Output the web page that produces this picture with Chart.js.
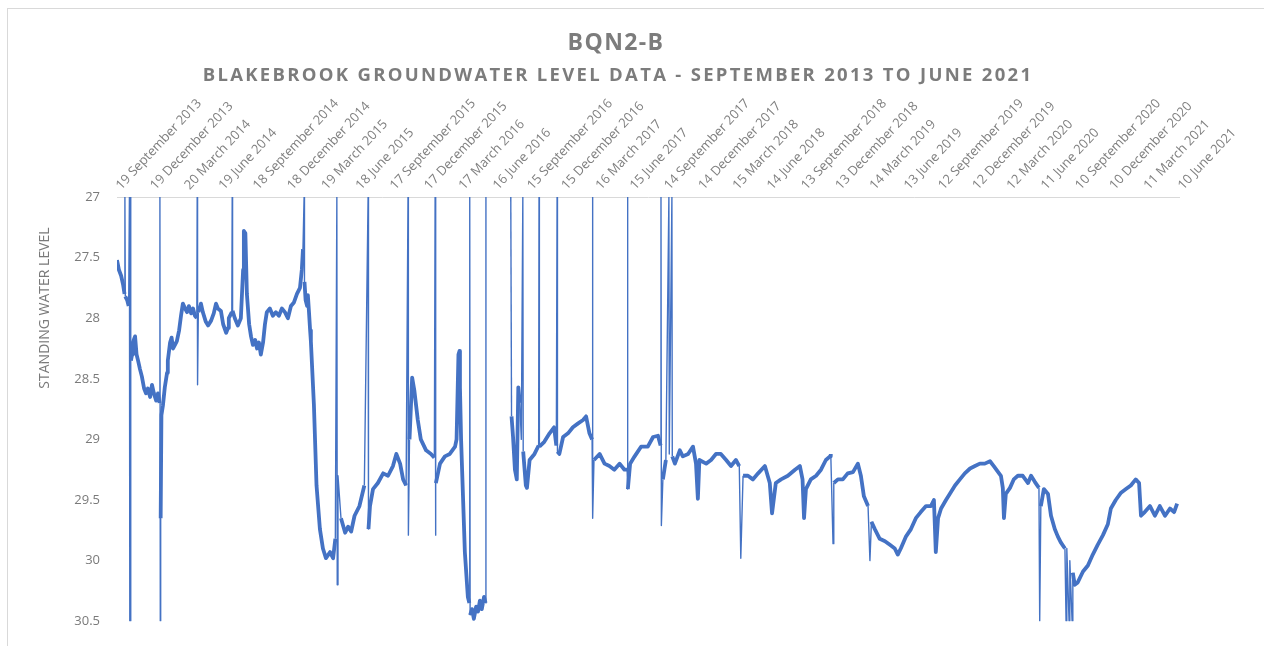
<!DOCTYPE html>
<html lang="en">
<head>
    <meta charset="UTF-8">
    <title>BQN2-B - Blakebrook Groundwater Level Data</title>
    <script src="https://cdn.jsdelivr.net/npm/chart.js"></script>
    <style>
        html, body { margin: 0; padding: 0; background: #fff; }
        .frame {
            position: absolute; left: 7px; top: 8px; width: 1260px; height: 660px;
            border-left: 1px solid #d9d9d9; border-top: 1px solid #d9d9d9;
        }
        .chart-container { position: absolute; left: 0; top: 0; width: 1264px; height: 646px; }
    </style>
</head>
<body>
    <div class="frame"></div>
    <div class="chart-container">
        <canvas id="levelChart"></canvas>
    </div>

    <script>
        // Quarterly axis labels
        const tickLabels = [
            '19 September 2013', '19 December 2013', '20 March 2014', '19 June 2014',
            '18 September 2014', '18 December 2014', '19 March 2015', '18 June 2015',
            '17 September 2015', '17 December 2015', '17 March 2016', '16 June 2016',
            '15 September 2016', '15 December 2016', '16 March 2017', '15 June 2017',
            '14 September 2017', '14 December 2017', '15 March 2018', '14 June 2018',
            '13 September 2018', '13 December 2018', '14 March 2019', '13 June 2019',
            '12 September 2019', '12 December 2019', '12 March 2020', '11 June 2020',
            '10 September 2020', '10 December 2020', '11 March 2021', '10 June 2021'
        ];

        // Days since 19 September 2013
        const days = [
            // 2013 - 2014
            0, 5, 11, 16, 20, 21, 22, 27, 31, 33, 34, 35, 36, 37, 40, 42, 48, 52, 56, 61,
            66, 72, 77, 82, 88, 93, 98, 104, 109, 113, 114, 115, 116, 118, 122, 127, 133, 135, 141, 145,
            149, 154, 159, 165, 170, 175, 181, 186, 191, 197, 202, 207, 212, 213, 214, 216, 223, 228, 236, 242,
            250, 257, 263, 268, 276, 282, 290, 295, 297, 305, 306, 307, 313, 321, 329, 335, 337, 341, 345, 351,
            356, 361, 367, 372, 377, 382, 388, 393, 398, 406, 414, 422, 430, 438, 446,
            // 2014 - 2016
            454, 462, 470, 478, 486, 491, 494, 497, 498, 501, 505, 507, 510, 513, 515, 523, 530, 539, 547, 555,
            566, 574, 580, 584, 585, 587, 595, 606, 614, 622, 631, 644, 657, 667, 668, 672, 680, 693, 707, 720,
            733, 742, 752, 760, 768, 773, 774, 777, 784, 790, 799, 807, 821, 834, 843, 845, 846, 847, 858, 871,
            884, 898, 902, 907, 910, 911, 914, 924, 932, 936, 937, 938, 943, 948, 954, 959, 964, 969, 975, 979,
            980, 1013,
            // 2016 - 2018
            1046, 1048, 1052, 1057, 1062, 1066, 1070, 1074, 1078, 1079, 1086, 1089, 1096, 1109, 1120, 1121, 1122, 1135, 1149, 1161,
            1167, 1169, 1170, 1175, 1185, 1198, 1211, 1224, 1238, 1246, 1255, 1262, 1263, 1264, 1267, 1282, 1295, 1308, 1321, 1335,
            1348, 1355, 1356, 1357, 1363, 1375, 1392, 1410, 1424, 1437, 1444, 1445, 1446, 1450, 1458, 1466, 1467, 1474, 1475, 1482,
            1495, 1503, 1517, 1530, 1538, 1543, 1547, 1565, 1578, 1591, 1604, 1618, 1631, 1644, 1653, 1657, 1663, 1676, 1689, 1703,
            1721, 1734, 1740, 1750, 1764, 1782, 1801, 1814, 1821, 1825, 1830, 1843, 1857, 1870, 1883, 1894,
            // 2018 - 2021
            1896, 1902, 1904, 1915, 1928, 1941, 1955, 1968, 1976, 1984, 1995, 2000, 2004, 2013, 2026, 2040, 2053, 2066, 2074, 2082,
            2096, 2109, 2122, 2135, 2149, 2162, 2170, 2175, 2181, 2189, 2202, 2212, 2226, 2239, 2252, 2266, 2279, 2292, 2305, 2319,
            2329, 2348, 2353, 2356, 2361, 2372, 2382, 2393, 2406, 2420, 2428, 2438, 2449, 2451, 2454, 2462, 2473, 2481, 2491, 2499,
            2507, 2518, 2521, 2523, 2529, 2531, 2537, 2539, 2544, 2552, 2566, 2579, 2592, 2605, 2619, 2632, 2640, 2653, 2667, 2680,
            2693, 2706, 2715, 2720, 2730, 2744, 2757, 2770, 2784, 2797, 2808, 2816
        ];

        // Standing water level (m), same order as days; null = no reading
        const level = [
            // 2013 - 2014
            27.52, 27.6, 27.65, 27.72, 27.8, 27.0, 27.82, 27.85, 27.9, 27.0, 30.5, 27.0, 30.5, 28.35, 28.3, 28.2, 28.15, 28.3, 28.35, 28.42,
            28.48, 28.58, 28.62, 28.58, 28.65, 28.55, 28.62, 28.68, 28.62, 28.7, 27.0, 30.5, 29.65, 28.8, 28.72, 28.57, 28.45, 28.35, 28.2, 28.16,
            28.25, 28.22, 28.19, 28.1, 27.98, 27.88, 27.92, 27.95, 27.9, 27.96, 27.92, 27.98, 28.0, 27.0, 28.55, 27.95, 27.88, 27.95, 28.03, 28.06,
            28.02, 27.96, 27.88, 27.92, 27.94, 28.05, 28.12, 28.08, 28.0, 27.95, 27.0, 27.94, 28.0, 28.06, 28.0, 27.6, 27.28, 27.3, 27.8, 28.05,
            28.15, 28.22, 28.18, 28.25, 28.2, 28.3, 28.2, 28.05, 27.95, 27.92, 27.98, 27.95, 27.98, 27.92, 27.95,
            // 2014 - 2016
            28.0, 27.9, 27.87, 27.8, 27.75, 27.6, 27.43, 27.0, 27.7, 27.85, 27.9, 27.81, 27.95, 28.1, 28.19, 28.71, 29.38, 29.74, 29.9, 29.98,
            29.93, 29.98, 29.82, 27.0, 30.2, 29.3, 29.65, 29.77, 29.72, 29.76, 29.63, 29.55, 29.38, 27.0, 29.74, 29.55, 29.41, 29.36, 29.28, 29.3,
            29.22, 29.12, 29.2, 29.33, 29.38, 27.0, 29.79, 29.0, 28.49, 28.6, 28.84, 29.0, 29.09, 29.12, 29.15, 27.0, 29.79, 29.36, 29.2, 29.14,
            29.12, 29.06, 29.0, 28.3, 28.27, 28.57, 29.0, 29.93, 30.3, 30.35, 27.0, 30.45, 30.4, 30.48, 30.38, 30.42, 30.33, 30.4, 30.3, 30.35,
            27.0, null,
            // 2016 - 2018
            27.0, 28.81, 28.98, 29.25, 29.33, 28.57, 28.7, 29.0, 27.0, 29.1, 29.38, 29.4, 29.17, 29.12, 29.05, 27.0, 29.06, 29.02, 28.95, 28.9,
            29.05, 27.0, 29.1, 29.12, 28.98, 28.95, 28.9, 28.87, 28.84, 28.81, 28.95, 29.0, 27.0, 29.65, 29.17, 29.12, 29.2, 29.22, 29.25, 29.2,
            29.25, 29.25, 27.0, 29.41, 29.2, 29.14, 29.06, 29.06, 28.98, 28.97, 29.05, 27.0, 29.71, 29.33, 29.17, 27.0, 29.12, 27.0, 29.14, 29.2,
            29.09, 29.14, 29.12, 29.06, 29.2, 29.49, 29.17, 29.2, 29.17, 29.12, 29.12, 29.17, 29.22, 29.17, 29.22, 29.98, 29.3, 29.3, 29.33, 29.28,
            29.22, 29.36, 29.61, 29.36, 29.33, 29.3, 29.25, 29.22, 29.33, 29.65, 29.41, 29.33, 29.3, 29.25, 29.17, 29.14,
            // 2018 - 2021
            29.12, 29.86, 29.36, 29.33, 29.33, 29.28, 29.27, 29.2, 29.3, 29.47, 29.55, 30.0, 29.68, 29.74, 29.82, 29.84, 29.87, 29.9, 29.95, 29.9,
            29.8, 29.74, 29.65, 29.6, 29.55, 29.55, 29.5, 29.93, 29.65, 29.57, 29.5, 29.45, 29.38, 29.33, 29.28, 29.24, 29.22, 29.2, 29.2, 29.18,
            29.22, 29.3, 29.4, 29.65, 29.45, 29.4, 29.33, 29.3, 29.3, 29.36, 29.3, 29.35, 29.4, 30.5, 29.55, 29.41, 29.45, 29.63, 29.74, 29.8,
            29.85, 29.9, 30.5, 29.9, 30.5, 30.0, 30.5, 30.1, 30.2, 30.18, 30.09, 30.04, 29.95, 29.87, 29.79, 29.7, 29.57, 29.5, 29.44, 29.41,
            29.38, 29.33, 29.36, 29.63, 29.6, 29.55, 29.63, 29.55, 29.63, 29.57, 29.6, 29.53
        ];

        const titleText = 'BQN2-B';
        const subtitleText = 'BLAKEBROOK GROUNDWATER LEVEL DATA - SEPTEMBER 2013 TO JUNE 2021';
        const yTitleText = 'STANDING WATER LEVEL';

        // tick positions come from the label dates themselves
        const months = ['January', 'February', 'March', 'April', 'May', 'June', 'July',
            'August', 'September', 'October', 'November', 'December'];
        function toUtc(label) {
            const [d, m, y] = label.split(' ');
            return Date.UTC(+y, months.indexOf(m), +d);
        }
        const start = toUtc(tickLabels[0]);
        const tickDays = tickLabels.map(l => Math.round((toUtc(l) - start) / 86400000));

        // a reading is a logger drop-out when it sticks out from both neighbours
        const isSpike = level.map((v, i) => {
            if (v === null) return false;
            const jumps = [level[i - 1], level[i + 1]]
                .filter(n => n !== null && n !== undefined)
                .map(n => v - n);
            if (!jumps.length) return false;
            return jumps.every(j => Math.abs(j) > 0.3) &&
                (jumps.every(j => j > 0) || jumps.every(j => j < 0));
        });

        const textColor = '#7a7a7a';

        // titles and the y axis caption, drawn on the chart canvas
        const headings = {
            id: 'headings',
            afterDraw(chart) {
                const ctx = chart.ctx;
                ctx.save();
                ctx.fillStyle = '#7c7c7c';
                ctx.textAlign = 'center';
                ctx.textBaseline = 'middle';
                ctx.font = 'bold 23px "Open Sans"';
                ctx.letterSpacing = '1.4px';
                ctx.fillText(titleText, 616, 43);
                ctx.font = 'bold 18.5px "Open Sans"';
                ctx.letterSpacing = '2.3px';
                ctx.fillText(subtitleText, 618, 76);
                ctx.letterSpacing = '0px';
                ctx.fillStyle = textColor;
                ctx.font = '14px "Open Sans"';
                ctx.translate(45, 308);
                ctx.rotate(-Math.PI / 2);
                ctx.fillText(yTitleText, 0, 0);
                ctx.restore();
            }
        };

        const ctx = document.getElementById('levelChart').getContext('2d');

        new Chart(ctx, {
            type: 'line',
            data: {
                datasets: [{
                    label: 'Standing water level',
                    data: days.map((d, i) => ({ x: d, y: level[i] })),
                    borderColor: '#4472C4',
                    borderWidth: 3.8,
                    borderJoinStyle: 'round',
                    pointRadius: 0,
                    tension: 0,
                    spanGaps: false,
                    // drop-outs are thin single lines, the daily trace is a thick band
                    segment: {
                        borderWidth: c => (isSpike[c.p0DataIndex] || isSpike[c.p1DataIndex]) ? 1.4 : 3.8
                    }
                }]
            },
            options: {
                responsive: true,
                maintainAspectRatio: false,
                animation: false,
                layout: { padding: { top: 88, right: 85, bottom: 19, left: 0 } },
                plugins: {
                    legend: { display: false },
                    tooltip: { enabled: false }
                },
                scales: {
                    x: {
                        type: 'linear',
                        position: 'top',
                        min: 0,
                        max: tickDays[tickDays.length - 1],
                        afterBuildTicks: scale => { scale.ticks = tickDays.map(v => ({ value: v })); },
                        afterFit: scale => { scale.height = 109; },
                        grid: { display: false, drawTicks: false },
                        border: { display: true, color: '#d9d9d9', width: 1 },
                        ticks: {
                            autoSkip: false,
                            minRotation: 47,
                            maxRotation: 47,
                            padding: 4,
                            labelOffset: 13,
                            color: '#808080',
                            font: { family: 'Open Sans', size: 13 },
                            callback: (value, index) => tickLabels[index]
                        }
                    },
                    y: {
                        reverse: true,
                        min: 27,
                        max: 30.5,
                        afterFit: scale => { scale.width = 117; },
                        grid: { display: false, drawTicks: false },
                        border: { display: false },
                        ticks: {
                            stepSize: 0.5,
                            padding: 17,
                            color: textColor,
                            font: { family: 'Open Sans', size: 13 },
                            callback: value => String(value)
                        }
                    }
                }
            },
            plugins: [headings]
        });
    </script>
</body>
</html>
